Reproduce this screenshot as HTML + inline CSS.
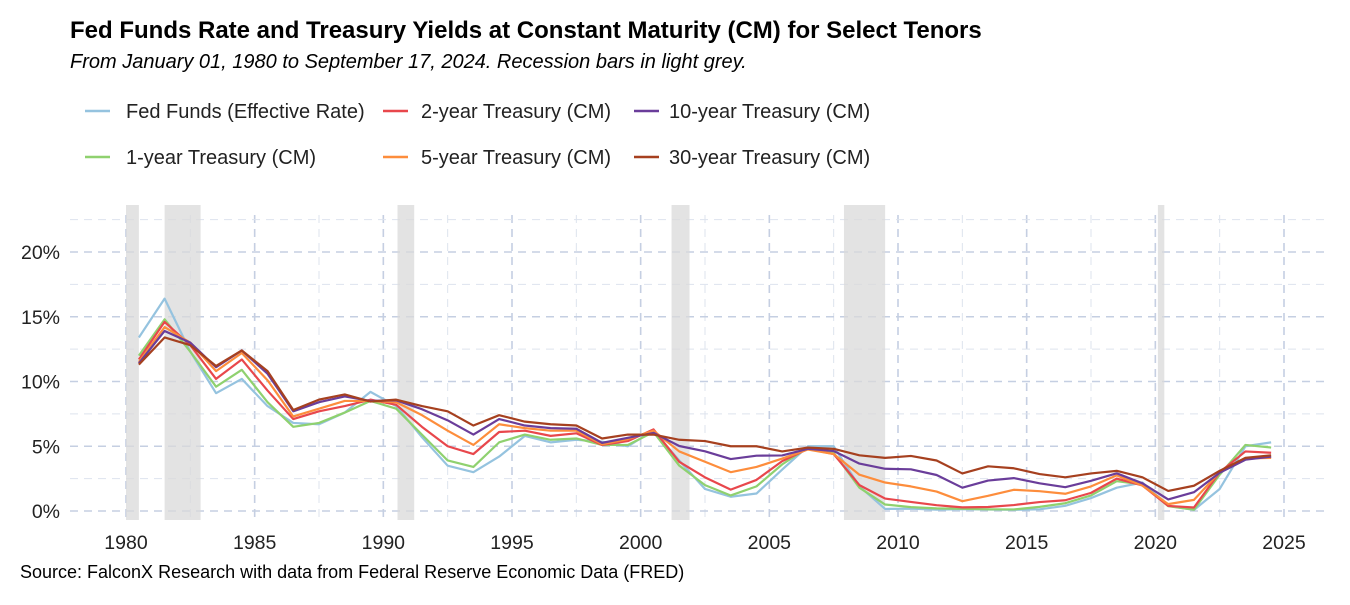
<!DOCTYPE html>
<html><head><meta charset="utf-8"><style>
body{margin:0;background:#fff;font-family:"Liberation Sans",Arial,sans-serif;}
svg text{font-family:"Liberation Sans",Arial,sans-serif;}
</style></head><body>
<svg id="c" width="1350" height="600" xmlns="http://www.w3.org/2000/svg">
<text x="70" y="38" font-size="24" font-weight="bold">Fed Funds Rate and Treasury Yields at Constant Maturity (CM) for Select Tenors</text>
<text x="70" y="68" font-size="20" font-style="italic">From January 01, 1980 to September 17, 2024. Recession bars in light grey.</text>
<g id="legend"></g>
<g id="grid"></g><g id="rec"></g><g id="lines"></g><g id="axes"></g>
<text x="20" y="578" font-size="18">Source: FalconX Research with data from Federal Reserve Economic Data (FRED)</text>
</svg>
<script>
const years=[1980,1981,1982,1983,1984,1985,1986,1987,1988,1989,1990,1991,1992,1993,1994,1995,1996,1997,1998,1999,2000,2001,2002,2003,2004,2005,2006,2007,2008,2009,2010,2011,2012,2013,2014,2015,2016,2017,2018,2019,2020,2021,2022,2023,2024];
const fedFunds=[13.4,16.4,12.3,9.1,10.2,8.1,6.8,6.7,7.6,9.2,8.1,5.7,3.5,3.0,4.2,5.8,5.3,5.5,5.35,5.0,6.2,3.9,1.7,1.1,1.35,3.2,5.0,5.0,1.9,0.16,0.18,0.1,0.14,0.11,0.09,0.13,0.4,1.0,1.8,2.2,0.4,0.08,1.7,5.0,5.3];
const t1y=[12.0,14.8,12.3,9.6,10.9,8.4,6.5,6.8,7.6,8.5,7.9,5.9,3.9,3.4,5.3,5.9,5.5,5.6,5.1,5.1,6.1,3.5,2.0,1.2,1.9,3.6,4.9,4.5,1.8,0.5,0.3,0.2,0.17,0.13,0.12,0.32,0.6,1.2,2.3,2.05,0.37,0.1,2.8,5.1,4.9];
const t2y=[11.7,14.6,12.8,10.2,11.7,9.3,7.1,7.7,8.1,8.6,8.2,6.5,5.0,4.4,6.1,6.2,5.8,6.0,5.1,5.4,6.3,3.8,2.6,1.65,2.4,3.85,4.8,4.4,2.0,0.96,0.7,0.45,0.28,0.31,0.46,0.69,0.83,1.4,2.5,1.97,0.39,0.27,2.99,4.6,4.5];
const t5y=[11.5,14.2,13.0,10.8,12.2,10.1,7.3,7.9,8.5,8.5,8.4,7.4,6.2,5.1,6.7,6.4,6.2,6.2,5.15,5.55,6.2,4.6,3.8,3.0,3.4,4.05,4.75,4.4,2.8,2.2,1.9,1.5,0.76,1.17,1.64,1.53,1.33,1.9,2.75,1.96,0.53,0.86,3.0,4.06,4.1];
const t10y=[11.4,13.9,13.0,11.1,12.4,10.6,7.7,8.4,8.85,8.5,8.55,7.86,7.0,5.9,7.1,6.6,6.4,6.35,5.26,5.65,6.03,5.02,4.61,4.01,4.27,4.29,4.8,4.63,3.66,3.26,3.22,2.78,1.8,2.35,2.54,2.14,1.84,2.33,2.91,2.14,0.89,1.45,2.95,3.96,4.2];
const t30y=[11.3,13.4,12.8,11.2,12.4,10.8,7.8,8.6,9.0,8.45,8.6,8.1,7.7,6.6,7.4,6.9,6.7,6.6,5.6,5.9,5.9,5.5,5.4,5.0,5.0,4.6,4.9,4.8,4.3,4.1,4.25,3.9,2.9,3.45,3.3,2.85,2.6,2.9,3.1,2.6,1.55,1.95,3.1,4.1,4.3];
const recStart=[1980.0,1981.5,1990.55,2001.2,2007.9,2020.1];
const recEnd=[1980.5,1982.9,1991.2,2001.9,2009.5,2020.35];
const xTicks=[1980,1985,1990,1995,2000,2005,2010,2015,2020,2025];
const yTicks=[0,5,10,15,20];
const seriesNames=["Fed Funds (Effective Rate)","1-year Treasury (CM)","2-year Treasury (CM)","5-year Treasury (CM)","10-year Treasury (CM)","30-year Treasury (CM)"];
const seriesColors=["#95c3df","#8fd16f","#e8474c","#fd8d3c","#6a3d9a","#a6401f"];
const seriesData=[fedFunds,t1y,t2y,t5y,t10y,t30y];

const NS="http://www.w3.org/2000/svg";
const X=y=>126+(y-1980)*(1158/45);
const Y=v=>511-v*(259/20);
const L=70,R=1325,T=215,B=520;
function mk(t,a,p){const e=document.createElementNS(NS,t);for(const k in a)e.setAttribute(k,a[k]);p.appendChild(e);return e;}
const grid=document.getElementById('grid');
for(let y=1977.5;y<=2027.5;y+=2.5){if(X(y)<L||X(y)>R)continue;const major=y%5===0;
 const g=mk('line',{x1:X(y),x2:X(y),y1:T,y2:B,stroke:major?'#c5cfe2':'#dde3ee','stroke-width':major?1.6:1,'stroke-dasharray':'8,6'},grid);
 }
for(let v=0;v<=22.5;v+=2.5){const major=v%5===0;
 const g=mk('line',{x1:L,x2:R,y1:Y(v),y2:Y(v),stroke:major?'#c5cfe2':'#dde3ee','stroke-width':major?1.6:1,'stroke-dasharray':'8,6'},grid);
 }
const rec=document.getElementById('rec');
recStart.forEach((s,i)=>{const r=mk('rect',{x:X(s),y:T-10,width:X(recEnd[i])-X(s),height:B-T+10,fill:'#d9d9d9',opacity:0.75},rec);
 });
const lines=document.getElementById('lines');
seriesData.forEach((d,i)=>{const pts=d.map((v,j)=>X(years[j]+0.5)+','+Y(v)).join(' ');
 const p=mk('polyline',{points:pts,fill:'none',stroke:seriesColors[i],'stroke-width':2.2,'stroke-linejoin':'round'},lines);
 });
const axes=document.getElementById('axes');
xTicks.forEach(t=>{const e=mk('text',{x:X(t),y:549,'font-size':19.5,'text-anchor':'middle',fill:'#222'},axes);e.textContent=t;
 });
yTicks.forEach(t=>{const e=mk('text',{x:60,y:Y(t)+7,'font-size':19.5,'text-anchor':'end',fill:'#222'},axes);e.textContent=t+'%';
 });
const lg=document.getElementById('legend');
const lx=[85,383,634],ly=[111,157];
const order=[[0,0,0],[2,1,0],[4,2,0],[1,0,1],[3,1,1],[5,2,1]];
order.forEach(([s,c,r])=>{const ln=mk('line',{x1:lx[c],x2:lx[c]+25,y1:ly[r],y2:ly[r],stroke:seriesColors[s],'stroke-width':2.5},lg);
 
 const t=mk('text',{x:lx[c]+(c===0?41:c===1?38:35),y:ly[r]+7,'font-size':20,fill:'#222'},lg);t.textContent=seriesNames[s];
 });
</script>
</body></html>
